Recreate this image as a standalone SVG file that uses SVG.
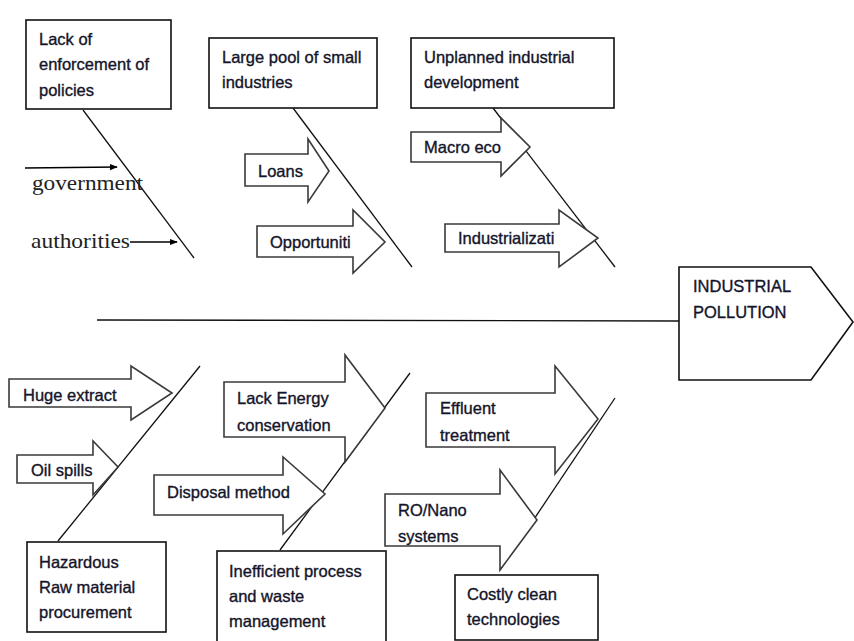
<svg xmlns="http://www.w3.org/2000/svg" width="854" height="641" viewBox="0 0 854 641">
<defs>
<marker id="ah" viewBox="0 0 10 10" refX="9" refY="5" markerWidth="8" markerHeight="8" markerUnits="userSpaceOnUse" orient="auto">
<path d="M0,1 L10,5 L0,9 Z" fill="#000"/>
</marker>
<style>
.box{fill:#fff;stroke:#111;stroke-width:1.6}
.barrow{fill:#fff;stroke:#3a3a3a;stroke-width:1.6;stroke-linejoin:miter}
.bone{stroke:#111;stroke-width:1.3;fill:none}
.t{font-family:"Liberation Sans",Arial,sans-serif;font-size:16.5px;fill:#14142a;stroke:#14142a;stroke-width:0.35}
.s{font-family:"Liberation Serif","Times New Roman",serif;font-size:21px;fill:#222}
</style>
</defs>
<rect width="854" height="641" fill="#fff"/>

<g id="connectors">
<line class="bone" x1="97" y1="320" x2="680" y2="321"/>
<line class="bone" x1="83" y1="110" x2="194" y2="258"/>
<line class="bone" x1="293" y1="108" x2="412" y2="267"/>
<line class="bone" x1="493" y1="108" x2="615" y2="267"/>
<line class="bone" x1="58" y1="541" x2="200" y2="366"/>
<line class="bone" x1="280" y1="550" x2="410" y2="373"/>
<line class="bone" x1="500" y1="570" x2="615" y2="398"/>
<line x1="25" y1="168" x2="117" y2="167" stroke="#000" stroke-width="1.3" marker-end="url(#ah)"/>
<line x1="130" y1="242" x2="177" y2="242" stroke="#000" stroke-width="1.3" marker-end="url(#ah)"/>
</g>

<g id="head">
<path class="box" d="M679,267 L811,267 L853,322 L811,380 L679,380 Z"/>
<text class="t" x="693" y="292">INDUSTRIAL</text>
<text class="t" x="693" y="318">POLLUTION</text>
</g>

<g id="policies">
<rect class="box" x="26" y="20" width="145" height="89"/>
<text class="t" x="39" y="45">Lack of</text>
<text class="t" x="39" y="70">enforcement of</text>
<text class="t" x="39" y="96">policies</text>
</g>

<g id="smallind">
<rect class="box" x="209" y="38" width="168" height="70"/>
<text class="t" x="222" y="63">Large pool of small</text>
<text class="t" x="222" y="88">industries</text>
</g>

<g id="unplanned">
<rect class="box" x="411" y="38" width="203" height="70"/>
<text class="t" x="424" y="63">Unplanned industrial</text>
<text class="t" x="424" y="88">development</text>
</g>

<g id="government">
<text class="s" x="32" y="190" textLength="111" lengthAdjust="spacingAndGlyphs">government</text>
</g>
<g id="authorities">
<text class="s" x="31" y="248" textLength="99" lengthAdjust="spacingAndGlyphs">authorities</text>
</g>

<g id="loans">
<path class="barrow" d="M245,154 L308,154 L308,139 L329,171 L308,202 L308,186 L245,186 Z"/>
<text class="t" x="258" y="177">Loans</text>
</g>

<g id="opportuniti">
<path class="barrow" d="M257,226 L353,226 L353,210 L385,242 L353,273 L353,257 L257,257 Z"/>
<text class="t" x="270" y="248">Opportuniti</text>
</g>

<g id="macro">
<path class="barrow" d="M411,132 L501,132 L501,118 L530,147 L501,176 L501,162 L411,162 Z"/>
<text class="t" x="424" y="153">Macro eco</text>
</g>

<g id="industrialization">
<path class="barrow" d="M445,224 L559,224 L559,210 L598,238 L559,267 L559,252 L445,252 Z"/>
<text class="t" x="458" y="244">Industrializati</text>
</g>

<g id="huge">
<path class="barrow" d="M9,379 L131,379 L131,366 L172,393 L131,420 L131,407 L9,407 Z"/>
<text class="t" x="23" y="401">Huge extract</text>
</g>

<g id="oil">
<path class="barrow" d="M17,455 L93,455 L93,441 L118,467 L93,495 L93,483 L17,483 Z"/>
<text class="t" x="31" y="476">Oil spills</text>
</g>

<g id="hazardous">
<rect class="box" x="27" y="542" width="139" height="90"/>
<text class="t" x="39" y="568">Hazardous</text>
<text class="t" x="39" y="593">Raw material</text>
<text class="t" x="39" y="618">procurement</text>
</g>

<g id="energy">
<path class="barrow" d="M224,382 L345,382 L345,355 L385,408 L345,462 L345,437 L224,437 Z"/>
<text class="t" x="237" y="404">Lack Energy</text>
<text class="t" x="237" y="431">conservation</text>
</g>

<g id="disposal">
<path class="barrow" d="M154,475 L283,475 L283,457 L325,494 L283,534 L283,515 L154,515 Z"/>
<text class="t" x="167" y="498">Disposal method</text>
</g>

<g id="inefficient">
<rect class="box" x="217" y="551" width="169" height="100"/>
<text class="t" x="229" y="577">Inefficient process</text>
<text class="t" x="229" y="602">and waste</text>
<text class="t" x="229" y="627">management</text>
</g>

<g id="effluent">
<path class="barrow" d="M426,393 L555,393 L555,366 L598,419 L555,474 L555,447 L426,447 Z"/>
<text class="t" x="440" y="414">Effluent</text>
<text class="t" x="440" y="441">treatment</text>
</g>

<g id="ronano">
<path class="barrow" d="M385,494 L500,494 L500,470 L537,520 L500,570 L500,546 L385,546 Z"/>
<text class="t" x="398" y="516">RO/Nano</text>
<text class="t" x="398" y="542">systems</text>
</g>

<g id="costly">
<rect class="box" x="455" y="575" width="143" height="65"/>
<text class="t" x="467" y="600">Costly clean</text>
<text class="t" x="467" y="625">technologies</text>
</g>
</svg>
